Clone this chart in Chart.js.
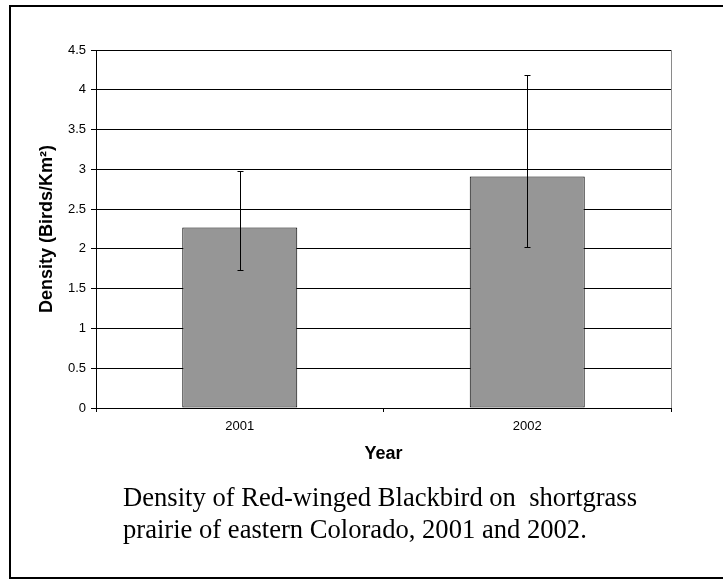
<!DOCTYPE html>
<html>
<head>
<meta charset="utf-8">
<script src="https://cdn.jsdelivr.net/npm/chart.js@4"></script>
<style>
  html, body { margin: 0; padding: 0; width: 723px; height: 579px; overflow: hidden; background: #fff; }
  #frame { position: absolute; left: 9px; top: 5px; width: 760px; height: 574px; box-sizing: border-box; border: 2px solid #000; }
  #wrap { position: absolute; left: 0; top: 0; width: 723px; height: 579px; }
  #caption { position: absolute; left: 123px; top: 481px; font-family: "Liberation Serif", "Times New Roman", serif; font-size: 26.6px; line-height: 32px; color: #000; white-space: pre; }
</style>
</head>
<body>
<div id="frame"></div>
<div id="wrap"><canvas id="c" width="723" height="579"></canvas></div>
<div id="caption">Density of Red-winged Blackbird on  shortgrass
prairie of eastern Colorado, 2001 and 2002.</div>
<script>
const categories = ['2001', '2002'];
const density = [2.27, 2.91];
const lowerCI = [1.73, 2.03];
const upperCI = [2.98, 4.18];
const yTickLabels = ['0', '0.5', '1', '1.5', '2', '2.5', '3', '3.5', '4', '4.5'];
const yTitle = 'Density (Birds/Km²)';
const xTitle = 'Year';

const errorBars = {
  id: 'errorBars',
  afterDatasetsDraw(chart) {
    const ctx = chart.ctx;
    const meta = chart.getDatasetMeta(0);
    const ys = chart.scales.y;
    ctx.save();
    ctx.strokeStyle = '#000';
    ctx.lineWidth = 1;
    meta.data.forEach((bar, i) => {
      const x = Math.round(bar.x) + 0.5;
      const yt = Math.round(ys.getPixelForValue(upperCI[i])) + 0.5;
      const yb = Math.round(ys.getPixelForValue(lowerCI[i])) + 0.5;
      ctx.beginPath();
      ctx.moveTo(x, yt); ctx.lineTo(x, yb);
      ctx.moveTo(x - 3, yt); ctx.lineTo(x + 3, yt);
      ctx.moveTo(x - 3, yb); ctx.lineTo(x + 3, yb);
      ctx.stroke();
    });
    ctx.restore();
  }
};

const rightBorder = {
  id: 'rightBorder',
  afterDraw(chart) {
    const a = chart.chartArea;
    const ctx = chart.ctx;
    ctx.save();
    ctx.strokeStyle = '#8a8a8a';
    ctx.lineWidth = 1;
    const x = Math.round(a.right) + 0.5;
    ctx.beginPath();
    ctx.moveTo(x, a.top); ctx.lineTo(x, a.bottom);
    ctx.stroke();
    ctx.restore();
  }
};

new Chart(document.getElementById('c'), {
  type: 'bar',
  data: {
    labels: categories,
    datasets: [{
      data: density,
      backgroundColor: '#969696',
      borderColor: '#000',
      borderWidth: 1,
      borderSkipped: false,
      barPercentage: 0.4,
      categoryPercentage: 1.0
    }]
  },
  options: {
    responsive: false,
    animation: false,
    layout: { padding: { left: 20, right: 52, top: 50, bottom: 111 } },
    plugins: { legend: { display: false }, tooltip: { enabled: false } },
    scales: {
      x: {
        afterFit(s) { s.height = 60; },
        grid: { offset: true, drawOnChartArea: false, drawTicks: true, tickLength: 4, color: '#000' },
        border: { color: '#000', width: 1 },
        ticks: { color: '#000', padding: 7, font: { family: 'Liberation Sans', size: 13 } },
        title: { display: true, text: xTitle, color: '#000', padding: { top: 0, bottom: 3 }, font: { family: 'Liberation Sans', size: 18, weight: 'bold' } }
      },
      y: {
        min: 0, max: 4.5,
        afterFit(s) { s.width = 76; },
        grid: { color: '#000', lineWidth: 1, tickLength: 5 },
        border: { color: '#000', width: 1 },
        ticks: {
          stepSize: 0.5, padding: 5, color: '#000',
          font: { family: 'Liberation Sans', size: 13 },
          callback: (v, i) => yTickLabels[i]
        },
        title: { display: true, text: yTitle, color: '#000', padding: { top: 16, bottom: 0 }, font: { family: 'Liberation Sans', size: 18, weight: 'bold' } }
      }
    }
  },
  plugins: [errorBars, rightBorder]
});
</script>
</body>
</html>
